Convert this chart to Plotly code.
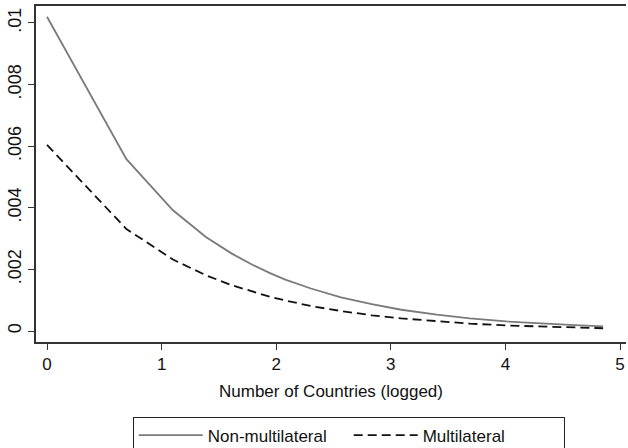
import plotly.graph_objects as go

# Data
x_logged = [0.0, 0.693, 1.099, 1.386, 1.609, 1.792, 1.946, 2.079, 2.303, 2.565,
            2.833, 3.091, 3.401, 3.689, 4.007, 4.317, 4.605, 4.852]
non_multilateral = [0.01020, 0.00558, 0.00392, 0.00305, 0.00252, 0.00215, 0.00188,
                    0.00167, 0.00138, 0.00109, 0.00087, 0.00069, 0.00053, 0.00041,
                    0.00031, 0.00024, 0.00019, 0.00015]
multilateral = [0.00604, 0.00331, 0.00232, 0.00181, 0.00149, 0.00127, 0.00111,
                0.00099, 0.00081, 0.00065, 0.00051, 0.00041, 0.00031, 0.00024,
                0.00018, 0.00014, 0.00011, 0.00009]
y_tickvals = [0, 0.002, 0.004, 0.006, 0.008, 0.01]
y_ticktext = ["0", ".002", ".004", ".006", ".008", ".01"]
x_tickvals = [0, 1, 2, 3, 4, 5]

FONT = "Liberation Sans, Arial, Helvetica, sans-serif"

fig = go.Figure()
fig.add_trace(go.Scatter(x=x_logged, y=non_multilateral, mode="lines",
                         name="Non-multilateral",
                         line=dict(color="#7a7a7a", width=1.8)))
fig.add_trace(go.Scatter(x=x_logged, y=multilateral, mode="lines",
                         name="Multilateral",
                         line=dict(color="#111111", width=1.8, dash="9px,5px")))

fig.update_layout(
    width=628, height=448,
    margin=dict(l=36, r=2, t=6, b=106, autoexpand=False),
    paper_bgcolor="white", plot_bgcolor="white",
    font=dict(family=FONT, size=17, color="#111111"),
    showlegend=True,
    legend=dict(orientation="h", x=0.53, xanchor="center", y=-0.222, yanchor="top",
                bordercolor="#222222", borderwidth=1, bgcolor="white",
                font=dict(size=17), itemwidth=64, entrywidth=136,
                entrywidthmode="pixels", tracegroupgap=0),
    xaxis=dict(range=[-0.096, 5.052], tickvals=x_tickvals, automargin=False,
               showgrid=False, zeroline=False,
               showline=True, linecolor="#333333", linewidth=1.5, mirror=True,
               ticks="outside", ticklen=6, tickcolor="#333333", tickwidth=1,
               title=dict(text="Number of Countries (logged)", standoff=12,
                          font=dict(size=17))),
    yaxis=dict(range=[-0.000357, 0.01055], tickvals=y_tickvals, ticktext=y_ticktext,
               tickangle=-90, automargin=False, tickfont=dict(size=18),
               showgrid=False, zeroline=False,
               showline=True, linecolor="#333333", linewidth=1.5, mirror=False,
               ticks="outside", ticklen=6, tickcolor="#333333", tickwidth=1),
)

fig.write_html("out.html", config={"displayModeBar": False},
               post_script="document.body.style.margin='0';")
